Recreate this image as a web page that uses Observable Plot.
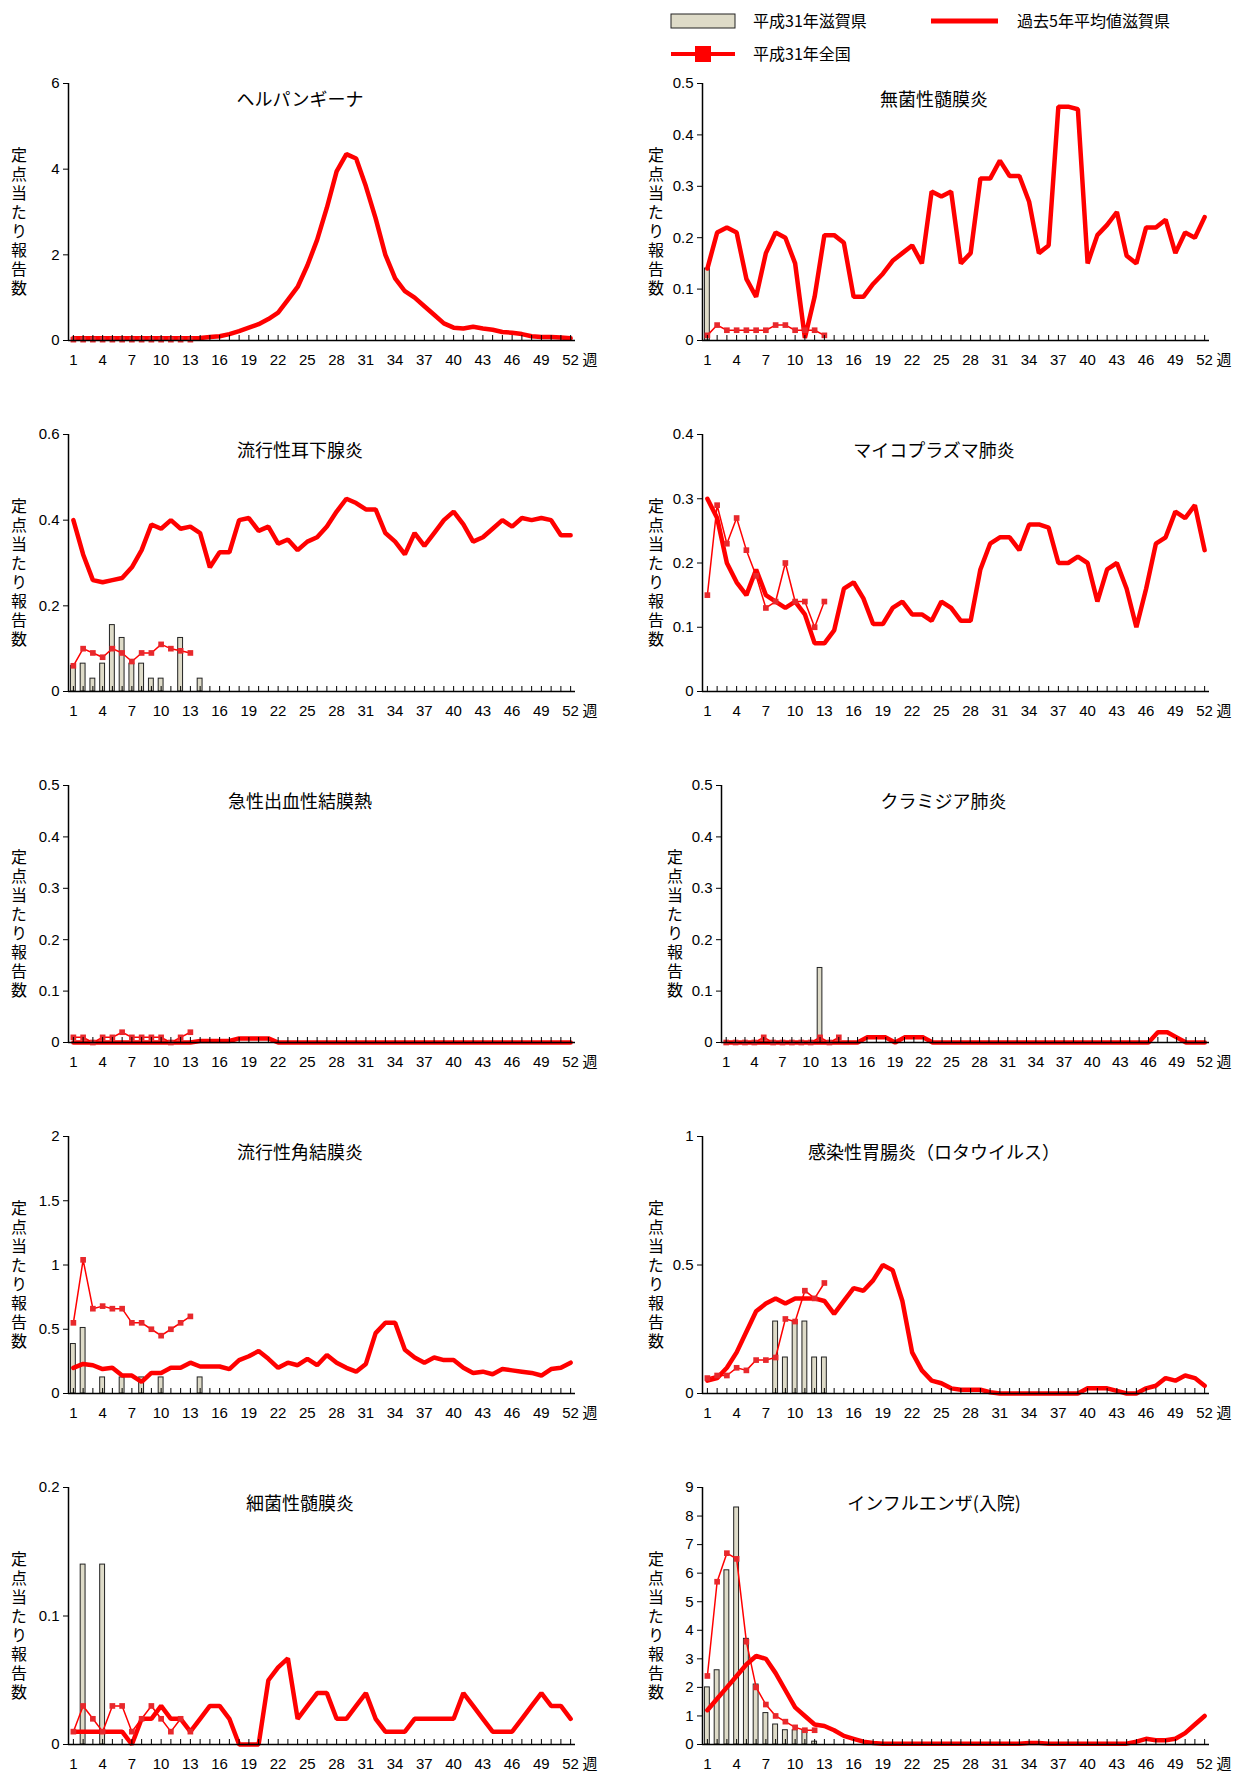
<!DOCTYPE html>
<html>
<head>
<meta charset="utf-8">
<script src="https://cdn.jsdelivr.net/npm/d3@7"></script>
<script src="https://cdn.jsdelivr.net/npm/@observablehq/plot@0.6"></script>
<style>
  body { margin: 0; background: #fff; font-family: "Liberation Sans", "Noto Sans CJK JP", sans-serif; }
  #page { position: relative; width: 1236px; height: 1776px; overflow: hidden; }
  .panel { position: absolute; }
  .ylab { position: absolute; writing-mode: vertical-rl; font-family: "Noto Sans CJK JP", sans-serif; font-size: 16px; line-height: 1; letter-spacing: 3px; color: #000; }
  .legend { position: absolute; left: 660px; top: 0; }
</style>
</head>
<body>
<div id="page"></div>
<script>
const weeks = d3.range(1, 53);
const xLabels = d3.range(1, 53, 3);

// ヘルパンギーナ
const herpAvg = [0.05,0.05,0.05,0.05,0.05,0.05,0.05,0.05,0.05,0.05,0.05,0.05,0.05,0.06,0.08,0.1,0.15,0.22,0.3,0.38,0.5,0.65,0.95,1.25,1.75,2.35,3.1,3.95,4.35,4.25,3.6,2.85,2.0,1.45,1.15,1.0,0.8,0.6,0.4,0.3,0.28,0.32,0.28,0.25,0.2,0.18,0.15,0.1,0.08,0.08,0.07,0.05];
const herpNat = [0.02,0.02,0.02,0.02,0.02,0.02,0.02,0.02,0.02,0.02,0.02,0.02,0.02];
const herpBar = [];
// 無菌性髄膜炎
const asepAvg = [0.14,0.21,0.22,0.21,0.12,0.085,0.17,0.21,0.2,0.15,0.005,0.085,0.205,0.205,0.19,0.085,0.085,0.11,0.13,0.155,0.17,0.185,0.15,0.29,0.28,0.29,0.15,0.17,0.315,0.315,0.35,0.32,0.32,0.27,0.17,0.185,0.455,0.455,0.45,0.15,0.205,0.225,0.25,0.165,0.15,0.22,0.22,0.235,0.17,0.21,0.2,0.24];
const asepNat = [0.01,0.03,0.02,0.02,0.02,0.02,0.02,0.03,0.03,0.02,0.02,0.02,0.01];
const asepBar = [0.14];
// 流行性耳下腺炎
const mumpAvg = [0.4,0.32,0.26,0.255,0.26,0.265,0.29,0.33,0.39,0.38,0.4,0.38,0.385,0.37,0.29,0.325,0.325,0.4,0.405,0.375,0.385,0.345,0.355,0.33,0.35,0.36,0.385,0.42,0.45,0.44,0.425,0.425,0.37,0.35,0.32,0.37,0.34,0.37,0.4,0.42,0.39,0.35,0.36,0.38,0.4,0.385,0.405,0.4,0.405,0.4,0.365,0.365];
const mumpNat = [0.06,0.1,0.09,0.08,0.1,0.09,0.07,0.09,0.09,0.11,0.1,0.095,0.09];
const mumpBar = [0.06,0.065,0.03,0.065,0.155,0.125,0.065,0.065,0.03,0.03,0,0.125,0,0.03];
// マイコプラズマ肺炎
const mycoAvg = [0.3,0.27,0.2,0.17,0.15,0.19,0.15,0.14,0.13,0.14,0.12,0.075,0.075,0.095,0.16,0.17,0.145,0.105,0.105,0.13,0.14,0.12,0.12,0.11,0.14,0.13,0.11,0.11,0.19,0.23,0.24,0.24,0.22,0.26,0.26,0.255,0.2,0.2,0.21,0.2,0.14,0.19,0.2,0.16,0.1,0.16,0.23,0.24,0.28,0.27,0.29,0.22];
const mycoNat = [0.15,0.29,0.23,0.27,0.22,0.18,0.13,0.14,0.2,0.14,0.14,0.1,0.14];
const mycoBar = [];
// 急性出血性結膜炎
const ahcAvg = [0,0,0,0,0,0,0,0,0,0,0,0,0,0.003,0.003,0.003,0.003,0.008,0.008,0.008,0.008,0,0,0,0,0,0,0,0,0,0,0,0,0,0,0,0,0,0,0,0,0,0,0,0,0,0,0,0,0,0,0];
const ahcNat = [0.01,0.01,0,0.01,0.01,0.02,0.01,0.01,0.01,0.01,0,0.01,0.02];
const ahcBar = [];
// クラミジア肺炎
const chlaAvg = [0,0,0,0,0,0,0,0,0,0,0,0,0,0,0,0.01,0.01,0.01,0,0.01,0.01,0.01,0,0,0,0,0,0,0,0,0,0,0,0,0,0,0,0,0,0,0,0,0,0,0,0,0.02,0.02,0.01,0,0,0];
const chlaNat = [0,0,0,0,0.01,0,0,0,0,0,0.01,0,0.01];
const chlaBar = [0,0,0,0,0,0,0,0,0,0,0.145];
// 流行性角結膜炎
const ekcAvg = [0.2,0.23,0.22,0.19,0.2,0.14,0.14,0.09,0.16,0.16,0.2,0.2,0.24,0.21,0.21,0.21,0.19,0.26,0.29,0.33,0.27,0.2,0.24,0.22,0.27,0.22,0.3,0.24,0.2,0.17,0.23,0.47,0.55,0.55,0.34,0.28,0.24,0.28,0.26,0.26,0.2,0.16,0.17,0.15,0.19,0.18,0.17,0.16,0.14,0.19,0.2,0.24];
const ekcNat = [0.55,1.04,0.66,0.68,0.66,0.66,0.55,0.55,0.5,0.45,0.5,0.55,0.6];
const ekcBar = [0.385,0.51,0,0.125,0,0.125,0,0.125,0,0.125,0,0,0,0.125];
// 感染性胃腸炎（ロタウイルス）
const rotaAvg = [0.05,0.06,0.1,0.16,0.24,0.32,0.35,0.37,0.35,0.37,0.37,0.37,0.36,0.31,0.36,0.41,0.4,0.44,0.5,0.48,0.36,0.16,0.09,0.05,0.04,0.02,0.015,0.015,0.015,0.005,0,0,0,0,0,0,0,0,0,0.02,0.02,0.02,0.01,0,0,0.02,0.03,0.06,0.05,0.07,0.06,0.03];
const rotaNat = [0.06,0.07,0.07,0.1,0.09,0.13,0.13,0.14,0.29,0.28,0.4,0.37,0.43];
const rotaBar = [0,0,0,0,0,0,0,0.28,0.14,0.28,0.28,0.14,0.14];
// 細菌性髄膜炎
const bactAvg = [0.01,0.01,0.01,0.01,0.01,0.01,0,0.02,0.02,0.03,0.02,0.02,0.01,0.02,0.03,0.03,0.02,0,0,0,0.05,0.06,0.067,0.02,0.03,0.04,0.04,0.02,0.02,0.03,0.04,0.02,0.01,0.01,0.01,0.02,0.02,0.02,0.02,0.02,0.04,0.03,0.02,0.01,0.01,0.01,0.02,0.03,0.04,0.03,0.03,0.02];
const bactNat = [0.01,0.03,0.02,0.01,0.03,0.03,0.01,0.02,0.03,0.02,0.01,0.02,0.01];
const bactBar = [0,0.14,0,0.14];
// インフルエンザ(入院)
const fluAvg = [1.2,1.6,2.0,2.4,2.8,3.1,3.0,2.5,1.9,1.3,1.0,0.7,0.65,0.5,0.3,0.2,0.1,0.05,0.03,0.03,0.03,0.03,0.03,0.03,0.03,0.03,0.03,0.03,0.03,0.03,0.03,0.03,0.03,0.05,0.05,0.03,0.03,0.03,0.03,0.03,0.03,0.03,0.03,0.03,0.1,0.2,0.15,0.15,0.2,0.4,0.7,1.0];
const fluNat = [2.4,5.7,6.7,6.5,3.6,2.0,1.4,1.0,0.8,0.6,0.5,0.5];
const fluBar = [2.0,2.6,6.1,8.3,3.7,2.1,1.1,0.7,0.5,0.5,0.5,0.1];

const panels = [
  {title: "ヘルパンギーナ", avg: herpAvg, nat: herpNat, bar: herpBar, ymax: 6, ticks: [0,2,4,6]},
  {title: "無菌性髄膜炎", avg: asepAvg, nat: asepNat, bar: asepBar, ymax: 0.5, ticks: [0,0.1,0.2,0.3,0.4,0.5]},
  {title: "流行性耳下腺炎", avg: mumpAvg, nat: mumpNat, bar: mumpBar, ymax: 0.6, ticks: [0,0.2,0.4,0.6]},
  {title: "マイコプラズマ肺炎", avg: mycoAvg, nat: mycoNat, bar: mycoBar, ymax: 0.4, ticks: [0,0.1,0.2,0.3,0.4]},
  {title: "急性出血性結膜熱", avg: ahcAvg, nat: ahcNat, bar: ahcBar, ymax: 0.5, ticks: [0,0.1,0.2,0.3,0.4,0.5]},
  {title: "クラミジア肺炎", avg: chlaAvg, nat: chlaNat, bar: chlaBar, ymax: 0.5, ticks: [0,0.1,0.2,0.3,0.4,0.5], shift: 19},
  {title: "流行性角結膜炎", avg: ekcAvg, nat: ekcNat, bar: ekcBar, ymax: 2, ticks: [0,0.5,1,1.5,2]},
  {title: "感染性胃腸炎（ロタウイルス）", avg: rotaAvg, nat: rotaNat, bar: rotaBar, ymax: 1, ticks: [0,0.5,1]},
  {title: "細菌性髄膜炎", avg: bactAvg, nat: bactNat, bar: bactBar, ymax: 0.2, ticks: [0,0.1,0.2]},
  {title: "インフルエンザ(入院)", avg: fluAvg, nat: fluNat, bar: fluBar, ymax: 9, ticks: d3.range(0, 10)},
];

const rows = (arr) => arr.map((v, i) => ({w: i + 1, v}));
const page = document.querySelector("#page");

// legend
page.insertAdjacentHTML("beforeend", `
<svg class="legend" width="576" height="70" style="left:660px;top:0;font-family:'Noto Sans CJK JP',sans-serif;font-size:16px">
  <rect x="11" y="14" width="64" height="14" fill="#dedbc8" stroke="#222"/>
  <text x="93" y="27">平成31年滋賀県</text>
  <line x1="271" x2="338" y1="21" y2="21" stroke="#ff0000" stroke-width="5"/>
  <text x="357" y="27">過去5年平均値滋賀県</text>
  <line x1="11" x2="75" y1="54" y2="54" stroke="#ff0000" stroke-width="4"/>
  <rect x="35" y="46" width="16" height="16" fill="#ff0000"/>
  <text x="93" y="60">平成31年全国</text>
</svg>`);

panels.forEach((p, i) => {
  const col = i % 2, row = Math.floor(i / 2);
  const shift = p.shift || 0;
  const ml = (col === 0 ? 68 : 70) + shift;
  const width = col === 0 ? 600 : 604;
  const mr = col === 0 ? 25 : 27;
  const plot = Plot.plot({
    width, height: 320,
    marginLeft: ml, marginRight: mr, marginTop: 25, marginBottom: 38,
    style: {fontFamily: "'Liberation Sans','Noto Sans CJK JP',sans-serif", fontSize: "15px", color: "#000", background: "transparent"},
    x: {domain: [0.5, 52.5], label: null},
    y: {domain: [0, p.ymax], label: null},
    marks: [
      Plot.rectY(rows(p.bar).filter(d => d.v > 0), {x1: d => d.w - 0.25, x2: d => d.w + 0.25, y1: 0, y2: "v", fill: "#dedbc8", stroke: "#222", strokeWidth: 1}),
      Plot.lineY(rows(p.avg), {x: "w", y: "v", stroke: "#ff0000", strokeWidth: 4.5, strokeLinejoin: "miter"}),
      Plot.lineY(rows(p.nat), {x: "w", y: "v", stroke: "#ff0000", strokeWidth: 1.5}),
      Plot.dot(rows(p.nat), {x: "w", y: "v", symbol: "square", r: 3.2, fill: "#e8282c"}),
      Plot.ruleY([0], {stroke: "#000", strokeWidth: 1.5}),
      Plot.ruleX([0.5], {y1: 0, y2: p.ymax, stroke: "#000", strokeWidth: 1.5}),
      Plot.axisX(weeks, {tickSize: -5, text: null, label: null}),
      Plot.axisX(xLabels, {tickSize: 0, tickPadding: 14, fontSize: 15, label: null}),
      Plot.axisY(p.ticks, {tickSize: 5, tickPadding: 4, fontSize: 15, tickFormat: d => String(d), label: null}),
      Plot.text(["週"], {frameAnchor: "bottom-right", textAnchor: "start", dx: 7, dy: 24, fontSize: 15}),
      Plot.text([p.title], {frameAnchor: "top", dx: -22, dy: 10, fontSize: 18, fontFamily: "'Noto Sans CJK JP',sans-serif"}),
    ],
  });
  const div = document.createElement("div");
  div.className = "panel";
  div.style.left = (col === 0 ? 0 : 632) + "px";
  div.style.top = (58 + 351 * row) + "px";
  div.append(plot);
  const lab = document.createElement("div");
  lab.className = "ylab";
  lab.textContent = "定点当たり報告数";
  lab.style.left = (col === 0 ? 11 : 16 + shift) + "px";
  lab.style.top = (25 + 64) + "px";
  div.append(lab);
  page.append(div);
});
</script>
</body>
</html>
